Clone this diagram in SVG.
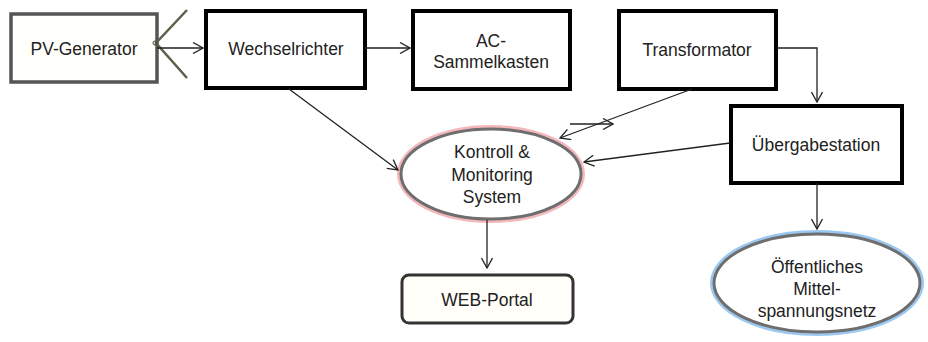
<svg xmlns="http://www.w3.org/2000/svg" width="928" height="342" viewBox="0 0 928 342">
<style>
text{font-family:"Liberation Sans",Arial,sans-serif;font-size:17.5px;fill:#222;text-anchor:middle}
.box{fill:#fff;stroke:#000;stroke-width:4}
.con{stroke:#222;stroke-width:1.3;fill:none}
</style>
<defs>
<marker id="arr" viewBox="0 0 12 12" refX="11" refY="6" markerWidth="12" markerHeight="12" markerUnits="userSpaceOnUse" orient="auto">
<path d="M1,0.5 L11,6 L1,11.5" fill="none" stroke="#222" stroke-width="1.3"/>
</marker>
</defs>
<rect width="928" height="342" fill="#fff"/>
<g id="pv">
<rect x="11" y="14" width="146" height="68" fill="#fffffb" stroke="#555" stroke-width="3.5"/>
<text x="84" y="55">PV-Generator</text>
</g>
<g id="wr">
<rect class="box" x="206" y="11" width="159" height="77"/>
<text x="286" y="55">Wechselrichter</text>
</g>
<g id="ac">
<rect class="box" x="413" y="11" width="157" height="78"/>
<text x="491" y="47">AC-</text>
<text x="491" y="68">Sammelkasten</text>
</g>
<g id="tr">
<rect class="box" x="619" y="11" width="157" height="78"/>
<text x="697" y="56">Transformator</text>
</g>
<g id="ue">
<rect class="box" x="731" y="106" width="171" height="77"/>
<text x="816" y="151">Übergabestation</text>
</g>
<g id="km">
<ellipse cx="491" cy="174" rx="91" ry="46" fill="#fff" stroke="#f4b8bc" stroke-width="6"/>
<ellipse cx="491" cy="174" rx="90" ry="45" fill="#fff" stroke="#6e6e6e" stroke-width="3"/>
<text x="492" y="158">Kontroll &amp;</text>
<text x="492" y="181">Monitoring</text>
<text x="492" y="203">System</text>
</g>
<g id="web">
<rect x="402" y="275" width="171" height="48" rx="7" fill="#fffef8" stroke="#333" stroke-width="3"/>
<text x="487" y="306">WEB-Portal</text>
</g>
<g id="netz">
<ellipse cx="817" cy="283" rx="104" ry="50" fill="#fff" stroke="#9cc8f0" stroke-width="6"/>
<ellipse cx="817" cy="283" rx="103" ry="49" fill="#fff" stroke="#6e6e6e" stroke-width="3"/>
<text x="817" y="273">Öffentliches</text>
<text x="817" y="295">Mittel-</text>
<text x="817" y="317">spannungsnetz</text>
</g>
<g id="connectors">
<path d="M187,10 L156,43 L187,78" fill="none" stroke="#5d6048" stroke-width="2.5"/>
<circle cx="155" cy="43" r="2" fill="none" stroke="#444" stroke-width="1"/>
<line class="con" x1="157" y1="48" x2="203" y2="48" marker-end="url(#arr)"/>
<line class="con" x1="365" y1="48" x2="410" y2="48" marker-end="url(#arr)"/>
<path class="con" d="M777,48 L817,48 L817,102" marker-end="url(#arr)"/>
<line class="con" x1="289" y1="89" x2="398" y2="170" marker-end="url(#arr)"/>
<line class="con" x1="692" y1="89" x2="560" y2="138" marker-end="url(#arr)"/>
<line class="con" x1="570" y1="124" x2="613" y2="124" marker-end="url(#arr)"/>
<line class="con" x1="730" y1="143" x2="584" y2="162" marker-end="url(#arr)"/>
<line class="con" x1="487" y1="220" x2="487" y2="268" marker-end="url(#arr)"/>
<line class="con" x1="817" y1="183" x2="817" y2="229" marker-end="url(#arr)"/>
</g>
</svg>
